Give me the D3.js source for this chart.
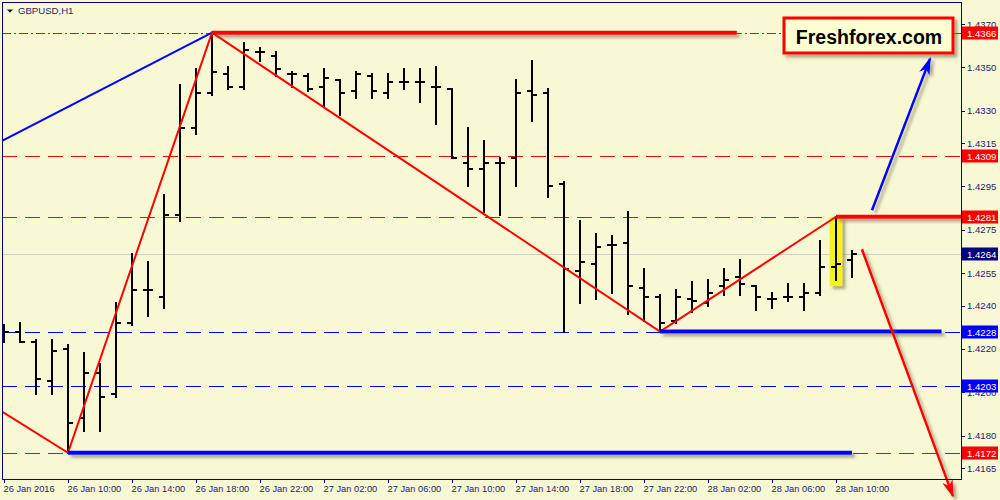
<!DOCTYPE html>
<html>
<head>
<meta charset="utf-8">
<script src="https://cdn.jsdelivr.net/npm/d3@7"></script>
<style>
body { margin: 0; background: #f8f8d4; }
text { font-family: "Liberation Sans", Arial, sans-serif; }
</style>
</head>
<body>
<script>
//chart data
var symbol = "GBPUSD,H1";
var firstBar = Date.UTC(2016, 0, 26, 6);   // 26 Jan 2016 06:00, one bar per hour

var opens  = [1.4229,1.4228,1.4223,1.4205,1.4220,1.4188,1.4209,1.4199,1.4232,1.4247,1.4244,1.4282,1.4322,1.4338,1.4347,1.4341,1.4357,1.4355,1.4347,1.4346,1.4341,1.4344,1.4339,1.4346,1.4338,1.4343,1.4343,1.4341,1.4340,1.4306,1.4303,1.4306,1.4308,1.4339,1.4338,1.4296,1.4256,1.4259,1.4268,1.4269,1.4248,1.4244,1.4233,1.4243,1.4241,1.4249,1.4253,1.4249,1.4243,1.4244,1.4244,1.4246,1.4258,1.4261];
var highs  = [1.4231,1.4232,1.4224,1.4224,1.4222,1.4218,1.4213,1.4241,1.4264,1.4260,1.4291,1.4342,1.4349,1.4366,1.4350,1.4361,1.4359,1.4357,1.4348,1.4347,1.4349,1.4344,1.4348,1.4347,1.4347,1.4349,1.4349,1.4350,1.4340,1.4322,1.4316,1.4308,1.4344,1.4353,1.4340,1.4297,1.4279,1.4273,1.4272,1.4283,1.4257,1.4245,1.4247,1.4251,1.4252,1.4257,1.4261,1.4249,1.4246,1.4250,1.4250,1.4270,1.4281,1.4265];
var lows   = [1.4223,1.4223,1.4199,1.4199,1.4172,1.4182,1.4182,1.4198,1.4231,1.4235,1.4239,1.4279,1.4319,1.4337,1.4340,1.4340,1.4353,1.4346,1.4341,1.4339,1.4332,1.4328,1.4336,1.4336,1.4336,1.4340,1.4334,1.4324,1.4308,1.4295,1.4283,1.4282,1.4295,1.4325,1.4290,1.4228,1.4241,1.4243,1.4246,1.4236,1.4233,1.4228,1.4232,1.4237,1.4240,1.4245,1.4245,1.4238,1.4239,1.4242,1.4238,1.4245,1.4252,1.4253];
var closes = [1.4228,1.4223,1.4206,1.4219,1.4186,1.4209,1.4198,1.4232,1.4247,1.4247,1.4282,1.4322,1.4338,1.4348,1.4341,1.4358,1.4357,1.4349,1.4347,1.4340,1.4345,1.4338,1.4347,1.4339,1.4343,1.4343,1.4343,1.4341,1.4308,1.4303,1.4306,1.4306,1.4338,1.4337,1.4295,1.4257,1.4260,1.4267,1.4268,1.4249,1.4244,1.4232,1.4244,1.4242,1.4246,1.4252,1.4250,1.4244,1.4243,1.4244,1.4246,1.4258,1.4259,1.4264];

//axis ticks
var priceTicks = [1.4370, 1.4350, 1.4330, 1.4315, 1.4295, 1.4275, 1.4255, 1.4240, 1.4220, 1.4200, 1.4180, 1.4165];
var timeTickHours = [0, 4, 8, 12, 16, 20, 24, 28, 32, 36, 40, 44, 48, 52];

//horizontal levels
var levelPrices  = [1.4366, 1.4309, 1.4281, 1.4228, 1.4203, 1.4172];
var levelColours = ["#ff0000", "#ff0000", "#ff0000", "#0000ff", "#0000ff", "#ff0000"];
var levelDashes  = ["9,3,2,3", "15,8", "15,8", "15,8", "15,8", "15,8"];
var bidPrice = 1.4264;

//price boxes on the right scale
var boxPrices  = [1.4366, 1.4309, 1.4281, 1.4264, 1.4228, 1.4203, 1.4172];
var boxColours = ["#ff0000", "#ff0000", "#ff0000", "#000080", "#0000ff", "#0000ff", "#ff0000"];

//zigzag pivots (bar index, price)
var zigzagBars   = [-0.12, 4, 13, 41, 52];
var zigzagPrices = [1.4191, 1.4172, 1.4366, 1.4228, 1.4281];
var blueLineBars   = [-0.12, 13];
var blueLinePrices = [1.4316, 1.4366];

//thick level segments
var segStart   = [13, 52, 41, 4];
var segEnd     = [45.8, 60, 58.6, 53];
var segPrices  = [1.4366, 1.4281, 1.4228, 1.4172];
var segColours = ["#ff0000", "#ff0000", "#0000ff", "#0000ff"];

//forecast arrows
var arrowFromBar   = [54.25, 53.62];
var arrowFromPrice = [1.4284, 1.4266];
var arrowToBar     = [57.88, 59.31];
var arrowToPrice   = [1.4354, 1.4152];
var arrowColours   = ["#0000ff", "#ff0000"];

//highlighted bar
var markBar = 52;
var markHigh = 1.4281;
var markLow = 1.4249;

//layout
var width = 1000;
var height = 500;
var plotLeft = 2, plotTop = 2, plotRight = 961, plotBottom = 479;
var axisColour = "#000080";
var textColour = "#1e1e6e";

var svg = d3.select("body").append("svg")
    .attr("width", width)
    .attr("height", height);

var defs = svg.append("defs");

//drop shadow used by the drawn objects
var shadow = defs.append("filter")
    .attr("id", "shadow")
    .attr("filterUnits", "userSpaceOnUse")
    .attr("x", 0).attr("y", 0).attr("width", width).attr("height", height);
shadow.append("feDropShadow")
    .attr("dx", 3).attr("dy", 3)
    .attr("stdDeviation", 1.8)
    .attr("flood-color", "#6b6b50")
    .attr("flood-opacity", 0.55);

defs.append("clipPath").attr("id", "plot")
    .append("rect")
    .attr("x", plotLeft).attr("y", plotTop)
    .attr("width", plotRight - plotLeft).attr("height", plotBottom - plotTop);

arrowColours.forEach(function (c, i) {
    defs.append("marker")
        .attr("id", "head" + i)
        .attr("markerUnits", "userSpaceOnUse")
        .attr("viewBox", "0 -6 18 12")
        .attr("refX", 16).attr("refY", 0)
        .attr("markerWidth", 18).attr("markerHeight", 12)
        .attr("orient", "auto")
        .append("path")
        .attr("d", "M0,-5.5 L18,0 L0,5.5 L5,0 Z")
        .attr("fill", c);
});

//scales
var x = d3.scaleUtc()
    .domain([new Date(firstBar), new Date(firstBar + 53 * 3600000)])
    .range([4, 852]);
var y = d3.scaleLinear()
    .domain([1.4165, 1.4370])
    .range([468, 24]);

function xBar(i) { return x(new Date(firstBar + i * 3600000)); }

var bars = opens.map(function (o, i) {
    return { i: i, open: o, high: highs[i], low: lows[i], close: closes[i] };
});

var plot = svg.append("g").attr("clip-path", "url(#plot)");

//dashed levels
plot.selectAll("line.level")
    .data(levelPrices)
    .enter().append("line")
    .attr("class", "level")
    .attr("x1", plotLeft).attr("x2", plotRight)
    .attr("y1", function (d) { return Math.round(y(d)) + 0.5; })
    .attr("y2", function (d) { return Math.round(y(d)) + 0.5; })
    .attr("stroke", function (d, i) { return levelColours[i]; })
    .attr("stroke-dasharray", function (d, i) { return levelDashes[i]; })
    .attr("stroke-width", 1);

//bid line
plot.append("line")
    .attr("x1", plotLeft).attr("x2", plotRight)
    .attr("y1", Math.round(y(bidPrice)) + 0.5)
    .attr("y2", Math.round(y(bidPrice)) + 0.5)
    .attr("stroke", "#cfcfcf");

//yellow highlight behind the bar
plot.append("rect")
    .attr("x", xBar(markBar - 0.4))
    .attr("y", y(markHigh))
    .attr("width", xBar(markBar + 0.4) - xBar(markBar - 0.4))
    .attr("height", y(markLow) - y(markHigh))
    .attr("fill", "#f6f21a")
    .attr("filter", "url(#shadow)");

//ohlc bars
var barGroup = plot.append("g")
    .attr("stroke", "#000")
    .attr("stroke-width", 2)
    .attr("shape-rendering", "crispEdges");

barGroup.selectAll("line.hl")
    .data(bars).enter().append("line")
    .attr("x1", function (d) { return xBar(d.i); })
    .attr("x2", function (d) { return xBar(d.i); })
    .attr("y1", function (d) { return y(d.high) - 1; })
    .attr("y2", function (d) { return y(d.low) + 1; });

barGroup.selectAll("line.op")
    .data(bars).enter().append("line")
    .attr("x1", function (d) { return xBar(d.i) - 5; })
    .attr("x2", function (d) { return xBar(d.i); })
    .attr("y1", function (d) { return y(d.open); })
    .attr("y2", function (d) { return y(d.open); });

barGroup.selectAll("line.cl")
    .data(bars).enter().append("line")
    .attr("x1", function (d) { return xBar(d.i); })
    .attr("x2", function (d) { return xBar(d.i) + 5; })
    .attr("y1", function (d) { return y(d.close); })
    .attr("y2", function (d) { return y(d.close); });

//zigzag and trend line
var line = d3.line()
    .x(function (d) { return xBar(d[0]); })
    .y(function (d) { return y(d[1]); });

plot.append("path")
    .attr("d", line(d3.zip(blueLineBars, blueLinePrices)))
    .attr("fill", "none")
    .attr("stroke", "#0000ff")
    .attr("stroke-width", 2);

plot.append("path")
    .attr("d", line(d3.zip(zigzagBars, zigzagPrices)))
    .attr("fill", "none")
    .attr("stroke", "#ff0000")
    .attr("stroke-width", 2);

//thick level segments
plot.selectAll("line.seg")
    .data(segPrices)
    .enter().append("line")
    .attr("x1", function (d, i) { return xBar(segStart[i]); })
    .attr("x2", function (d, i) { return xBar(segEnd[i]); })
    .attr("y1", function (d) { return y(d); })
    .attr("y2", function (d) { return y(d); })
    .attr("stroke", function (d, i) { return segColours[i]; })
    .attr("stroke-width", 4)
    .attr("filter", "url(#shadow)");

//arrows (not clipped, the red one runs past the axis)
svg.selectAll("line.arrow")
    .data(arrowColours)
    .enter().append("line")
    .attr("x1", function (d, i) { return xBar(arrowFromBar[i]); })
    .attr("y1", function (d, i) { return y(arrowFromPrice[i]); })
    .attr("x2", function (d, i) { return xBar(arrowToBar[i]); })
    .attr("y2", function (d, i) { return y(arrowToPrice[i]); })
    .attr("stroke", function (d) { return d; })
    .attr("stroke-width", 2.5)
    .attr("marker-end", function (d, i) { return "url(#head" + i + ")"; })
    .attr("filter", "url(#shadow)");

//plot frame
svg.append("rect")
    .attr("x", plotLeft).attr("y", plotTop)
    .attr("width", plotRight - plotLeft).attr("height", plotBottom - plotTop)
    .attr("fill", "none")
    .attr("stroke", axisColour)
    .attr("shape-rendering", "crispEdges");

//right price axis
var yAxis = svg.append("g")
    .attr("transform", "translate(" + plotRight + ",0)")
    .call(d3.axisRight(y).tickValues(priceTicks).tickSize(4).tickPadding(2).tickFormat(d3.format(".4f")));
yAxis.select(".domain").remove();
yAxis.selectAll("line").attr("stroke", axisColour).attr("shape-rendering", "crispEdges");
yAxis.selectAll("text")
    .attr("fill", textColour)
    .style("font-size", "9.6px")
    .style("font-family", "'Liberation Sans', Arial, sans-serif");

//bottom time axis
var timeTicks = timeTickHours.map(function (h) { return new Date(firstBar + h * 3600000); });
var fmtFirst = d3.utcFormat("%d %b %Y");
var fmtTime = d3.utcFormat("%d %b %H:%M");
var xAxis = svg.append("g")
    .attr("transform", "translate(0," + plotBottom + ")")
    .call(d3.axisBottom(x).tickValues(timeTicks).tickSize(4).tickPadding(2)
        .tickFormat(function (d, i) { return i == 0 ? fmtFirst(d) : fmtTime(d); }));
xAxis.select(".domain").remove();
xAxis.selectAll("line").attr("stroke", axisColour).attr("shape-rendering", "crispEdges");
xAxis.selectAll("text")
    .attr("text-anchor", "start")
    .attr("x", -1)
    .attr("fill", textColour)
    .style("font-size", "9.3px")
    .style("font-family", "'Liberation Sans', Arial, sans-serif");

//price boxes
var boxes = svg.selectAll("g.pbox")
    .data(boxPrices)
    .enter().append("g")
    .attr("transform", function (d) { return "translate(962," + Math.round(y(d)) + ")"; });
boxes.append("rect")
    .attr("x", 0).attr("y", -6.5)
    .attr("width", 36).attr("height", 13)
    .attr("fill", function (d, i) { return boxColours[i]; });
boxes.append("text")
    .attr("x", 5).attr("y", 4)
    .attr("fill", "#fff")
    .style("font-size", "9.6px")
    .text(function (d) { return d.toFixed(4); });

//symbol title
svg.append("path")
    .attr("d", "M7,9.5 L13,9.5 L10,12.8 Z")
    .attr("fill", "#101060");
svg.append("text")
    .attr("x", 18).attr("y", 14)
    .attr("fill", textColour)
    .style("font-size", "9.6px")
    .text(symbol);

//logo box
svg.append("rect")
    .attr("x", 784).attr("y", 18)
    .attr("width", 169).attr("height", 35)
    .attr("fill", "#ffffd2")
    .attr("stroke", "#ff0000")
    .attr("stroke-width", 3)
    .attr("filter", "url(#shadow)");
svg.append("text")
    .attr("x", 869).attr("y", 44)
    .attr("text-anchor", "middle")
    .attr("fill", "#000")
    .style("font-size", "19.5px")
    .style("font-weight", "bold")
    .text("Freshforex.com");
</script>
</body>
</html>
